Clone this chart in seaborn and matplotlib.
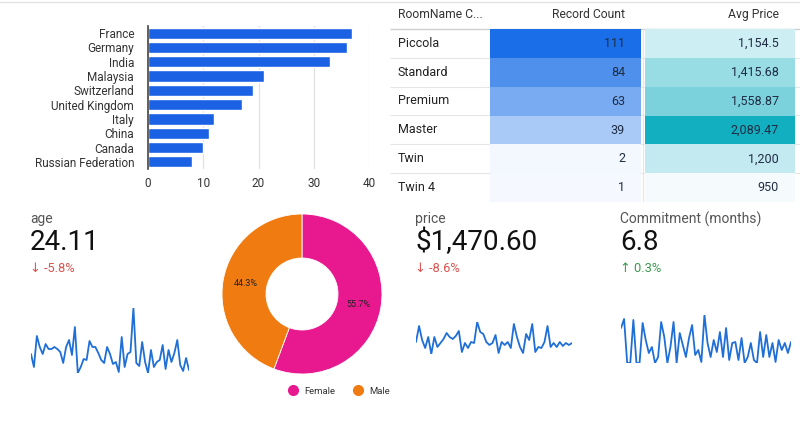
import numpy as np
import pandas as pd
import matplotlib
matplotlib.use("Agg")
import matplotlib.pyplot as plt
from matplotlib.colors import LinearSegmentedColormap
from matplotlib.lines import Line2D
import seaborn as sns

# ---------------- data ----------------
countries = ["France", "Germany", "India", "Malaysia", "Switzerland",
             "United Kingdom", "Italy", "China", "Canada", "Russian Federation"]
country_counts = [37, 36, 33, 21, 19, 17, 12, 11, 10, 8]

room_names = ["Piccola", "Standard", "Premium", "Master", "Twin", "Twin 4"]
record_counts = [111, 84, 63, 39, 2, 1]
avg_prices = [1154.5, 1415.68, 1558.87, 2089.47, 1200, 950]
avg_price_labels = ["1,154.5", "1,415.68", "1,558.87", "2,089.47", "1,200", "950"]
table_headers = ["RoomName C...", "Record Count", "Avg Price"]

gender_labels = ["Female", "Male"]
gender_share = [55.7, 44.3]

kpi_titles = ["age", "price", "Commitment (months)"]
kpi_values = ["24.11", "$1,470.60", "6.8"]
kpi_deltas = ["-5.8%", "-8.6%", "0.3%"]
kpi_up = [False, False, True]

age_trend = [26, 13, 44, 33, 26, 36, 31, 31, 33, 31, 28, 17, 33, 40, 25, 53, 7, 13,
             21, 20, 39, 33, 33, 27, 20, 17, 33, 26, 16, 18, 8, 43, 13, 26, 28, 72,
             17, 14, 38, 18, 7, 30, 13, 18, 20, 35, 11, 30, 18, 27, 40, 15, 9, 22, 10]
price_trend = [18, 34, 20, 12, 23, 6, 23, 13, 17, 21, 27, 23, 21, 24, 29, 8, 17, 12,
               18, 17, 38, 28, 26, 18, 15, 17, 25, 7, 18, 15, 18, 12, 36, 23, 13, 7,
               26, 20, 36, 8, 13, 12, 18, 34, 13, 17, 13, 18, 14, 17, 15, 17]
commit_trend = [37, 46, 2, 2, 45, 2, 2, 42, 25, 12, 18, 2, 8, 43, 28, 2, 18, 43, 2,
                32, 20, 8, 27, 40, 10, 15, 3, 50, 22, 8, 25, 13, 33, 8, 37, 5, 22, 23,
                5, 27, 2, 8, 22, 5, 2, 33, 8, 30, 8, 22, 3, 25, 15, 22, 12, 23]

# ---------------- style ----------------
sns.set_theme(style="white")
plt.rcParams["font.family"] = ["Roboto", "DejaVu Sans"]

W, H = 800, 425
fig = plt.figure(figsize=(8, 4.25), dpi=100)
fig.patch.set_facecolor("white")


def rect(x0, y0, x1, y1):
    """pixel box (top-left origin) -> figure fraction rect"""
    return [x0 / W, 1 - y1 / H, (x1 - x0) / W, (y1 - y0) / H]


# top border line
fig.add_artist(Line2D([0, 1], [1 - 1.5 / H, 1 - 1.5 / H], color="#e2e2e2", lw=1))

# ---------------- bar chart ----------------
axb = fig.add_axes(rect(148, 26, 369, 169))
bar_df = pd.DataFrame({"country": countries, "count": country_counts})
sns.barplot(data=bar_df, x="count", y="country", orient="h", color="#1a62e3",
            saturation=1, width=0.78, ax=axb)
axb.set_xlim(0, 40)
axb.set_xticks([0, 10, 20, 30, 40])
axb.set_xlabel("")
axb.set_ylabel("")
axb.xaxis.grid(True, color="#e0e0e0", lw=0.9)
axb.set_axisbelow(True)
for s in ["top", "right", "bottom"]:
    axb.spines[s].set_visible(False)
axb.spines["left"].set_color("#444444")
axb.spines["left"].set_linewidth(1.2)
axb.tick_params(axis="both", length=0, labelsize=8.5, labelcolor="#333333")
axb.tick_params(axis="y", pad=10)
axb.tick_params(axis="x", pad=6)

# ---------------- table ----------------
row_h = 202 / 7.0
axt = fig.add_axes(rect(390, 0, 800, 202))
axt.set_xlim(390, 800)
axt.set_ylim(202, 0)
axt.axis("off")
for i in range(1, 8):
    y = i * row_h
    axt.plot([390, 800], [y, y], color="#d0d0d0" if i == 1 else "#e6e6e6",
             lw=1.0 if i == 1 else 0.8, solid_capstyle="butt")
axt.plot([490, 490], [row_h, 202], color="#e6e6e6", lw=0.8)
axt.plot([643, 643], [row_h, 202], color="#e6e6e6", lw=0.8)
axt.text(398, row_h / 2, table_headers[0], ha="left", va="center", fontsize=8.7, color="#333333")
axt.text(625, row_h / 2, table_headers[1], ha="right", va="center", fontsize=8.7, color="#333333")
axt.text(779, row_h / 2, table_headers[2], ha="right", va="center", fontsize=8.7, color="#333333")
for i, name in enumerate(room_names):
    axt.text(398, row_h * (i + 1.5), name, ha="left", va="center", fontsize=9, color="#222222")

cmap_count = LinearSegmentedColormap.from_list("cnt", ["#f5f8fe", "#1a6fe8"])
cmap_price = LinearSegmentedColormap.from_list("prc", ["#f5fbfd", "#12afc0"])

axc = fig.add_axes(rect(490, row_h + 0.5, 641, 202))
sns.heatmap(pd.DataFrame({"c": record_counts}), cmap=cmap_count, cbar=False,
            xticklabels=False, yticklabels=False, ax=axc,
            vmin=min(record_counts), vmax=max(record_counts))
for i, v in enumerate(record_counts):
    axc.text(0.894, i + 0.5, str(v), ha="right", va="center", fontsize=9, color="#1f2d44")
axc.set_xlabel(""); axc.set_ylabel("")

axp = fig.add_axes(rect(645, row_h + 0.5, 795, 202))
sns.heatmap(pd.DataFrame({"p": avg_prices}), cmap=cmap_price, cbar=False,
            xticklabels=False, yticklabels=False, ax=axp,
            vmin=min(avg_prices), vmax=max(avg_prices))
for i, v in enumerate(avg_price_labels):
    axp.text(0.893, i + 0.5, v, ha="right", va="center", fontsize=9, color="#1f2d44")
axp.set_xlabel(""); axp.set_ylabel("")

# ---------------- KPIs ----------------
kpi_x = [30, 415, 620]
for x, t, v, d, up in zip(kpi_x, kpi_titles, kpi_values, kpi_deltas, kpi_up):
    fig.text(x / W, 1 - 212 / H, t, ha="left", va="top", fontsize=10, color="#555555")
    fig.text(x / W, 1 - 229 / H, v, ha="left", va="top", fontsize=20, color="#111111")
    col = "#3c9a4e" if up else "#d9534f"
    arrow = "\u2191" if up else "\u2193"
    fig.text(x / W, 1 - 262 / H, arrow + " " + d, ha="left", va="top", fontsize=9.3,
             color=col, family=["Roboto", "DejaVu Sans"])

# ---------------- sparklines ----------------
line_col = "#1f6fd6"


def spark(box, vals):
    ax = fig.add_axes(rect(*box))
    sns.lineplot(x=np.arange(len(vals)), y=vals, ax=ax, color=line_col, lw=1.3)
    ax.set_xlim(0, len(vals) - 1)
    ax.set_ylim(min(vals), max(vals))
    ax.axis("off")
    return ax


spark((31, 308, 189, 373), age_trend)
spark((416, 322, 572, 354), price_trend)
spark((621, 315, 791, 363), commit_trend)

# ---------------- donut ----------------
cx, cy, R = 302, 294, 80
pad = 5
axd = fig.add_axes(rect(cx - R - pad, cy - R - pad, cx + R + pad, cy + R + pad))
wedges, _, autotexts = axd.pie(gender_share, colors=["#e8198f", "#f07b10"], startangle=90,
                               counterclock=False, autopct="%.1f%%", pctdistance=0.72,
                               wedgeprops=dict(width=0.55, edgecolor="white", linewidth=0.6),
                               textprops=dict(fontsize=6.5, color="#222222"))
lim = (R + pad) / R
axd.set_xlim(-lim, lim)
axd.set_ylim(-lim, lim)
axd.set_aspect("equal")

handles = [Line2D([0], [0], marker="o", color="none", markerfacecolor=c, markeredgecolor=c,
                  markersize=7) for c in ["#e8198f", "#f07b10"]]
fig.legend(handles, gender_labels, loc="center", bbox_to_anchor=(337 / W, 1 - 391 / H),
           ncol=2, frameon=False, fontsize=6.8, handletextpad=0.2, columnspacing=1.4,
           labelcolor="#333333")

fig.savefig("out.png", dpi=100, facecolor="white")
